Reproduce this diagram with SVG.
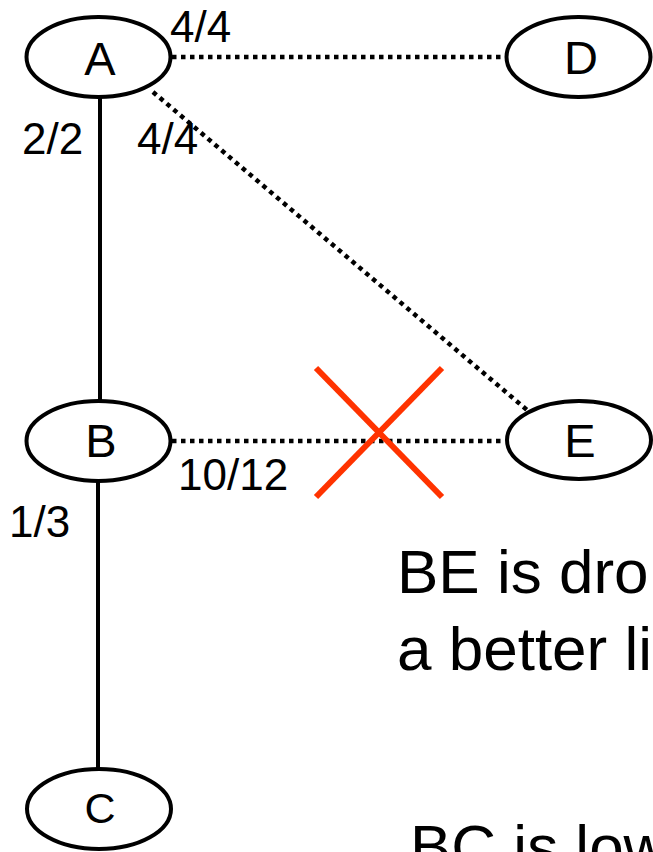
<svg xmlns="http://www.w3.org/2000/svg" width="653" height="852" viewBox="0 0 653 852">
<style>
.node ellipse{fill:#fff;stroke:#000;stroke-width:4}
.node text{font-family:"Liberation Sans",Arial,sans-serif;font-size:47px;text-anchor:middle;fill:#000}
.lbl{font-family:"Liberation Sans",Arial,sans-serif;font-size:44px;fill:#000}
.big{font-family:"Liberation Sans",Arial,sans-serif;font-size:62px;fill:#000}
.solid{stroke:#000;stroke-width:4;fill:none}
.dot{stroke:#000;stroke-width:4.5;stroke-dasharray:4.5 4.5;fill:none}
</style>
<rect width="653" height="852" fill="#fff"/>
<g id="connectors">
<line class="solid" x1="100" y1="97" x2="100" y2="401"/>
<line class="solid" x1="98" y1="481" x2="98" y2="769"/>
<line class="dot" x1="172" y1="57" x2="505" y2="57"/>
<line class="dot" x1="153" y1="92" x2="527" y2="410"/>
<line class="dot" x1="172" y1="441" x2="505" y2="441"/>
</g>
<g id="node-A" class="node"><ellipse cx="98.5" cy="57" rx="72" ry="40"/><text x="100" y="75">A</text></g>
<g id="node-D" class="node"><ellipse cx="578.5" cy="57" rx="72" ry="40"/><text x="581" y="74">D</text></g>
<g id="node-B" class="node"><ellipse cx="98.5" cy="441" rx="72" ry="40"/><text x="101" y="457">B</text></g>
<g id="node-E" class="node"><ellipse cx="579" cy="440" rx="72" ry="39"/><text x="580" y="457">E</text></g>
<g id="node-C" class="node"><ellipse cx="99" cy="809" rx="72" ry="40"/><text x="100" y="823" style="font-size:43px">C</text></g>
<g id="labels">
<text class="lbl" x="170" y="42">4/4</text>
<text class="lbl" x="22" y="154">2/2</text>
<text class="lbl" x="137" y="154">4/4</text>
<text class="lbl" x="178" y="490">10/12</text>
<text class="lbl" x="9" y="537">1/3</text>
</g>
<g id="cross" stroke="#ff3300" stroke-width="6">
<line x1="316" y1="368" x2="442" y2="497"/>
<line x1="442" y1="368" x2="316" y2="497"/>
</g>
<g id="notes">
<text class="big" x="397" y="593">BE is dro</text>
<text class="big" x="397" y="670">a better li</text>
<text class="big" x="410" y="868">BC is low</text>
</g>
</svg>
